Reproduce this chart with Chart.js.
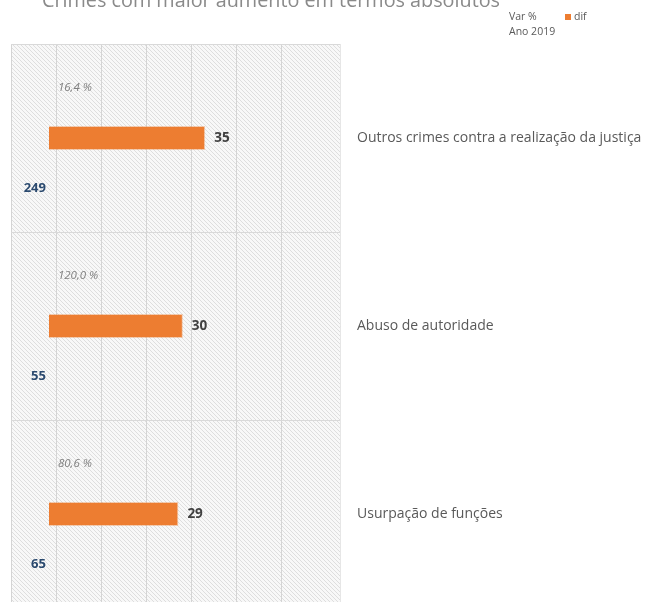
<!DOCTYPE html>
<html><head><meta charset="utf-8">
<script src="https://cdn.jsdelivr.net/npm/chart.js@4/dist/chart.umd.min.js"></script>
<style>html,body{margin:0;padding:0;overflow:hidden;background:#fff}canvas{display:block}</style>
</head><body><canvas id="c" width="648" height="612" style="width:648px;height:612px"></canvas>
<script>
const chartTitle = 'Crimes com maior aumento em termos absolutos';
const categories = ['Outros crimes contra a realização da justiça', 'Abuso de autoridade', 'Usurpação de funções'];
const varPct = [16.4, 120.0, 80.6];
const dif = [35, 30, 29];
const ano2019 = [249, 55, 65];
const seriesNames = ['Var %', 'dif', 'Ano 2019'];

const ORANGE = '#ED7D31';
const FONT = '"Open Sans", "Liberation Sans", sans-serif';

const hatchPlugin = {
  id: 'hatch',
  beforeDraw(chart) {
    const { ctx, chartArea: a } = chart;
    const p = document.createElement('canvas');
    p.width = 4; p.height = 4;
    const pc = p.getContext('2d');
    pc.fillStyle = '#f8f8f8'; pc.fillRect(0, 0, 4, 4);
    pc.fillStyle = '#dedede';
    for (let i = 0; i < 4; i++) pc.fillRect(i, i, 1, 1);
    ctx.save();
    ctx.fillStyle = ctx.createPattern(p, 'repeat');
    ctx.fillRect(a.left, a.top, a.right - a.left, a.bottom - a.top);
    ctx.restore();
  }
};

const labelPlugin = {
  id: 'labels',
  afterDatasetsDraw(chart) {
    const { ctx } = chart;
    const zero = chart.scales.x.getPixelForValue(0);
    ctx.save();
    ctx.textBaseline = 'middle';
    chart.data.datasets.forEach((ds, di) => {
      const meta = chart.getDatasetMeta(di);
      meta.data.forEach((el, i) => {
        const v = ds.data[i];
        if (ds.label === 'dif') {
          ctx.font = 'bold 13.5px ' + FONT;
          ctx.fillStyle = '#404040';
          ctx.textAlign = 'left';
          ctx.fillText(String(v), el.x + 9, el.y);
        } else if (ds.label === 'Var %') {
          ctx.font = 'italic 11.5px ' + FONT;
          ctx.fillStyle = '#7f7f7f';
          ctx.textAlign = 'left';
          ctx.fillText(v.toFixed(1).replace('.', ',') + ' %', zero + 9, el.y);
        } else {
          ctx.font = 'bold 13px ' + FONT;
          ctx.fillStyle = '#2b4a6f';
          ctx.textAlign = 'right';
          ctx.fillText(String(v), zero - 3, el.y);
        }
      });
    });
    ctx.restore();
  }
};

const headerPlugin = {
  id: 'header',
  afterDraw(chart) {
    const { ctx } = chart;
    ctx.save();
    ctx.font = '19.8px ' + FONT;
    ctx.fillStyle = '#8a8a8a';
    ctx.textAlign = 'center';
    ctx.textBaseline = 'alphabetic';
    ctx.fillText(chartTitle, 271, 7);
    // legend
    ctx.font = '10.5px ' + FONT;
    ctx.textAlign = 'left';
    ctx.textBaseline = 'middle';
    const pos = { 'Var %': [509, 17, false], 'dif': [565, 17, true], 'Ano 2019': [509, 32, false] };
    chart.data.datasets.forEach(ds => {
      const [x, y, box] = pos[ds.label];
      let tx = x;
      if (box) {
        ctx.fillStyle = ds.backgroundColor;
        ctx.fillRect(x, y - 3, 6, 6);
        tx = x + 9;
      }
      ctx.fillStyle = '#595959';
      ctx.fillText(ds.label, tx, y);
    });
    ctx.restore();
  }
};

new Chart(document.getElementById('c'), {
  type: 'bar',
  data: {
    labels: categories,
    datasets: [
      { label: seriesNames[0], data: varPct, xAxisID: 'xh', backgroundColor: 'rgba(0,0,0,0)' },
      { label: seriesNames[1], data: dif, xAxisID: 'x', backgroundColor: ORANGE, borderColor: 'rgba(237,125,49,0.35)', borderWidth: 1 },
      { label: seriesNames[2], data: ano2019, xAxisID: 'xh', backgroundColor: 'rgba(0,0,0,0)' }
    ]
  },
  options: {
    indexAxis: 'y',
    responsive: false,
    devicePixelRatio: 1,
    animation: false,
    events: [],
    categoryPercentage: 0.8,
    barPercentage: 0.48,
    layout: { padding: { top: 44, left: 11, right: 0, bottom: 4 } },
    plugins: { legend: { display: false }, title: { display: false }, tooltip: { enabled: false } },
    scales: {
      x: { type: 'linear', min: -8.5, max: 65.2, display: false },
      xh: { type: 'linear', display: false, min: 0, max: 1000 },
      xg: {
        type: 'linear', position: 'bottom', min: 0, max: 73,
        ticks: { display: false, stepSize: 10 },
        grid: { color: '#d4d4d4', drawTicks: false, lineWidth: 1 },
        border: { display: false },
        afterFit(scale) { scale.height = 0; }
      },
      y: {
        position: 'right',
        grid: { color: '#d9d9d9', drawTicks: false, offset: true },
        border: { display: true, color: '#e6e6e6' },
        ticks: { color: '#595959', font: { family: FONT, size: 14 }, padding: 17 },
        afterFit(scale) { scale.width = 648 - 340; scale.paddingTop = 0; scale.paddingBottom = 0; }
      }
    }
  },
  plugins: [hatchPlugin, labelPlugin, headerPlugin]
});
</script>
</body></html>
